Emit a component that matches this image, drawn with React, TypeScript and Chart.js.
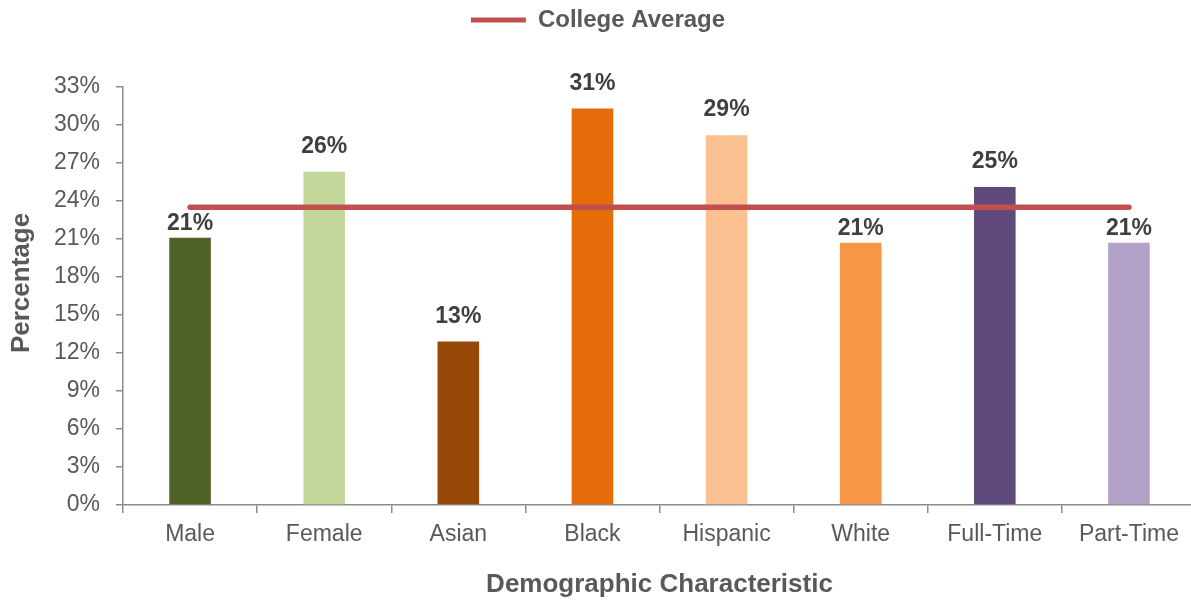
import React, { useEffect, useRef } from 'react';
import { Chart, registerables } from 'chart.js';

Chart.register(...registerables);

const categories = ['Male', 'Female', 'Asian', 'Black', 'Hispanic', 'White', 'Full-Time', 'Part-Time'];
const rates = [21.1, 26.3, 12.9, 31.3, 29.2, 20.7, 25.1, 20.7];
const collegeAverage = 23.5;
const averageSeries = categories.map(() => collegeAverage);
const barColors = ['#4F6228', '#C4D79B', '#974706', '#E46C0A', '#FAC090', '#F79646', '#604A7B', '#B3A2C7'];
const yMin = 0;
const yMax = 33;
const yStep = 3;
const legendText = 'College Average';
const xTitle = 'Demographic Characteristic';
const yTitle = 'Percentage';

const FONT = '"Liberation Sans", Arial, Helvetica, sans-serif';
const AXIS_COLOR = '#8C8C8C';
const TEXT_COLOR = '#595959';
const LABEL_COLOR = '#404040';
const LINE_COLOR = '#C0504D';

const legendSpacing = {
  id: 'legendSpacing',
  beforeLayout(chart: any) {
    const legend = chart.legend;
    if (legend && !legend.__patched) {
      const fit = legend.fit;
      legend.fit = function () {
        fit.call(this);
        this.height += 45;
      };
      legend.__patched = true;
    }
  },
};

const yTitlePlugin = {
  id: 'yTitlePlugin',
  afterDraw(chart: any) {
    const ctx = chart.ctx;
    const area = chart.chartArea;
    ctx.save();
    ctx.translate(22, (area.top + area.bottom) / 2 - 13);
    ctx.rotate(-Math.PI / 2);
    ctx.font = `bold 26px ${FONT}`;
    ctx.fillStyle = TEXT_COLOR;
    ctx.textAlign = 'center';
    ctx.textBaseline = 'middle';
    ctx.fillText(yTitle, 0, 0);
    ctx.restore();
  },
};

const valueLabels = {
  id: 'valueLabels',
  afterDatasetsDraw(chart: any) {
    const ctx = chart.ctx;
    const meta = chart.getDatasetMeta(0);
    const lineY = chart.scales.y.getPixelForValue(collegeAverage);
    ctx.save();
    ctx.font = `bold 23px ${FONT}`;
    ctx.fillStyle = LABEL_COLOR;
    ctx.textAlign = 'center';
    ctx.textBaseline = 'middle';
    meta.data.forEach((bar: any, i: number) => {
      let cy = bar.y - 25;
      if (Math.abs(cy - lineY) < 16) cy = bar.y - 14;
      ctx.fillText(Math.round(rates[i]) + '%', bar.x, cy);
    });
    ctx.restore();
  },
};

export default function App() {
  const canvasRef = useRef<HTMLCanvasElement | null>(null);

  useEffect(() => {
    const canvas = canvasRef.current;
    if (!canvas) return;
    const chart = new Chart(canvas, {
      type: 'bar',
      data: {
        labels: categories,
        datasets: [
          {
            type: 'bar',
            label: 'Rate',
            data: rates,
            backgroundColor: barColors,
            barPercentage: 0.31,
            categoryPercentage: 1,
            order: 1,
          } as any,
          {
            type: 'line',
            label: legendText,
            data: averageSeries,
            borderColor: LINE_COLOR,
            backgroundColor: LINE_COLOR,
            borderWidth: 5.5,
            borderCapStyle: 'round',
            pointRadius: 0,
            fill: false,
            order: 0,
          } as any,
        ],
      },
      options: {
        responsive: false,
        animation: false,
        layout: { padding: { top: 0, left: 0, right: 0, bottom: 0 } },
        plugins: {
          tooltip: { enabled: false },
          legend: {
            position: 'top',
            labels: {
              font: { family: FONT, size: 24, weight: 'bold' },
              color: TEXT_COLOR,
              boxWidth: 55,
              boxHeight: 5,
              padding: 8,
              generateLabels: () => [
                {
                  text: legendText,
                  fillStyle: LINE_COLOR,
                  strokeStyle: LINE_COLOR,
                  lineWidth: 0,
                  hidden: false,
                  datasetIndex: 1,
                  fontColor: TEXT_COLOR,
                } as any,
              ],
            },
          },
        },
        scales: {
          x: {
            offset: true,
            grid: {
              offset: true,
              drawOnChartArea: false,
              drawTicks: true,
              tickLength: 8,
              color: AXIS_COLOR,
              lineWidth: 1.5,
            },
            border: { color: AXIS_COLOR, width: 1.5 },
            ticks: {
              font: { family: FONT, size: 23 },
              color: TEXT_COLOR,
              padding: 8,
              maxRotation: 0,
              autoSkip: false,
            },
            title: {
              display: true,
              text: xTitle,
              font: { family: FONT, size: 26, weight: 'bold' },
              color: TEXT_COLOR,
              padding: { top: 0, bottom: 5 },
            },
            afterFit(scale: any) {
              scale.height = 100;
            },
          },
          y: {
            min: yMin,
            max: yMax,
            grid: {
              drawOnChartArea: false,
              drawTicks: true,
              tickLength: 7,
              color: AXIS_COLOR,
              lineWidth: 1.5,
            },
            border: { color: AXIS_COLOR, width: 1.5 },
            ticks: {
              stepSize: yStep,
              font: { family: FONT, size: 23 },
              color: TEXT_COLOR,
              padding: 16,
              callback: (v: any) => v + '%',
            },
            afterFit(scale: any) {
              scale.width = 123;
            },
          },
        },
      } as any,
      plugins: [legendSpacing, valueLabels, yTitlePlugin],
    });
    return () => chart.destroy();
  }, []);

  return (
    <div style={{ position: 'absolute', left: 0, top: 0, width: 1191, height: 605, overflow: 'hidden', background: '#fff' }}>
      <canvas ref={canvasRef} width={1196} height={605} style={{ display: 'block' }} />
    </div>
  );
}
